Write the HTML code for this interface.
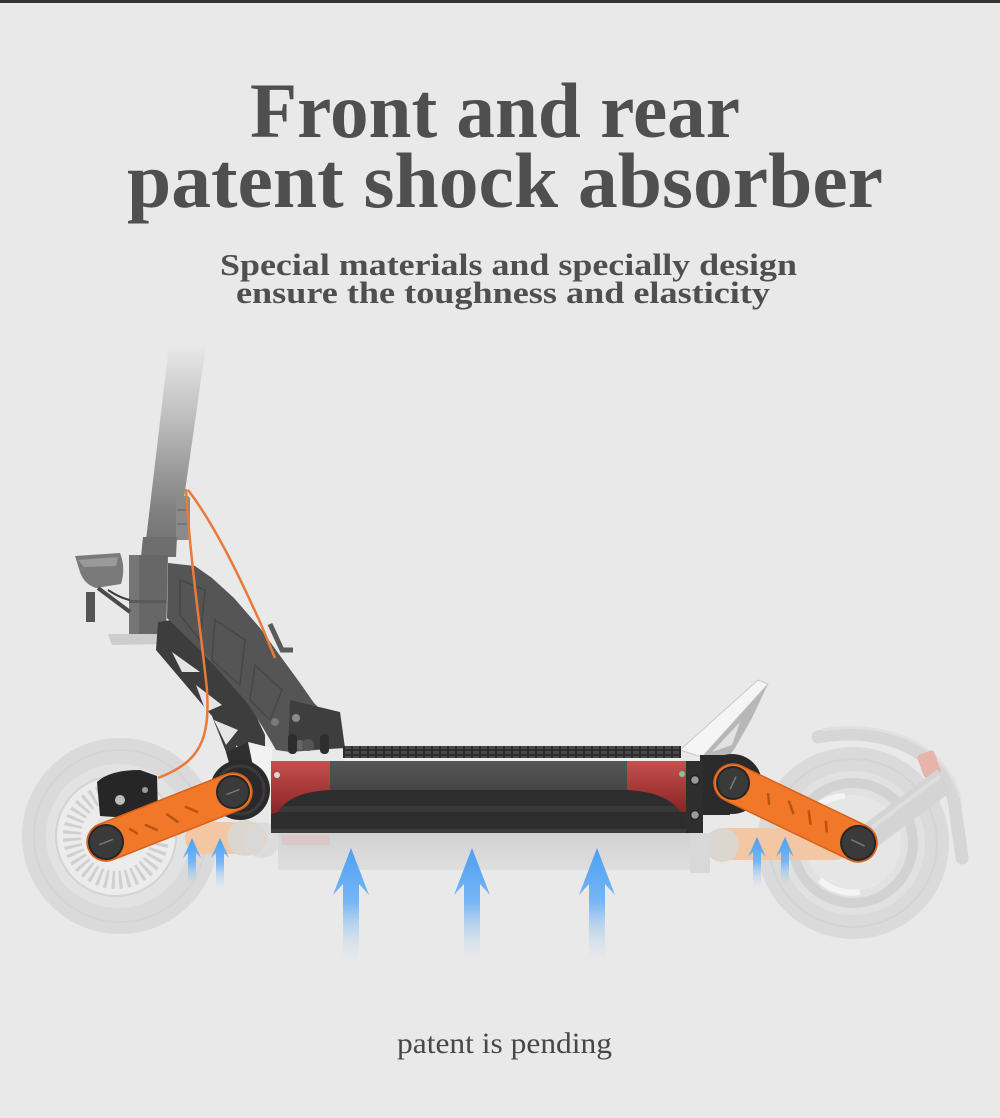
<!DOCTYPE html>
<html><head><meta charset="utf-8"><style>
html,body{margin:0;padding:0;background:#e9e9e9;}
svg{display:block;}
</style></head><body>
<svg width="1000" height="1118" viewBox="0 0 1000 1118" xmlns="http://www.w3.org/2000/svg">
<defs>
<linearGradient id="stemG" x1="0" y1="345" x2="0" y2="600" gradientUnits="userSpaceOnUse">
<stop offset="0" stop-color="#e9e9e9"/><stop offset="0.3" stop-color="#bcbcbc"/><stop offset="0.65" stop-color="#808080"/><stop offset="1" stop-color="#5e5e5e"/>
</linearGradient>
<linearGradient id="arrG" x1="0" y1="0" x2="0" y2="1">
<stop offset="0" stop-color="#4c9ff2"/><stop offset="0.45" stop-color="#78b6f4"/><stop offset="1" stop-color="#e9e9e9" stop-opacity="0"/>
</linearGradient>
<linearGradient id="redL" x1="0" y1="0" x2="0" y2="1">
<stop offset="0" stop-color="#c65050"/><stop offset="1" stop-color="#8a2424"/>
</linearGradient>
<linearGradient id="deckTop" x1="0" y1="0" x2="0" y2="1">
<stop offset="0" stop-color="#575757"/><stop offset="1" stop-color="#454545"/>
</linearGradient>
<linearGradient id="ghost" x1="0" y1="0" x2="0" y2="1">
<stop offset="0" stop-color="#d2d2d2"/><stop offset="1" stop-color="#dedede"/>
</linearGradient>
<pattern id="grip" width="8" height="5" patternUnits="userSpaceOnUse">
<rect width="8" height="5" fill="#2c2c2c"/><rect x="1" y="1" width="6" height="3" fill="#4b4b4b"/>
</pattern>
</defs>

<rect width="1000" height="1118" fill="#e9e9e9"/>
<rect width="1000" height="3" fill="#353535"/>

<!-- Titles -->
<g font-family="'Liberation Serif', serif" fill="#4f4f4f" font-weight="bold">
<text x="250" y="137" font-size="78" textLength="490" lengthAdjust="spacingAndGlyphs">Front and rear</text>
<text x="127" y="207" font-size="78" textLength="756" lengthAdjust="spacingAndGlyphs">patent shock absorber</text>
<text x="220" y="275" font-size="31" textLength="577" lengthAdjust="spacingAndGlyphs">Special materials and specially design</text>
<text x="236" y="303" font-size="31" textLength="534" lengthAdjust="spacingAndGlyphs">ensure the toughness and elasticity</text>
</g>
<text x="397" y="1053" font-family="'Liberation Serif', serif" font-size="30" fill="#474747" textLength="215" lengthAdjust="spacingAndGlyphs">patent is pending</text>

<!-- Front wheel -->
<circle cx="120" cy="836" r="98" fill="#dadada"/>
<circle cx="120" cy="836" r="86" fill="none" stroke="#d4d4d4" stroke-width="2"/>
<circle cx="118" cy="836" r="72" fill="#e2e2e2"/>
<circle cx="116" cy="836" r="60" fill="#ececec" stroke="#d3d3d3" stroke-width="2"/>
<circle cx="116" cy="836" r="44" fill="none" stroke="#d0d0d0" stroke-width="18" stroke-dasharray="3 4"/>
<circle cx="116" cy="836" r="24" fill="#e4e4e4"/>

<!-- Rear wheel -->
<circle cx="853" cy="843" r="96" fill="#dadada"/>
<circle cx="853" cy="843" r="84" fill="none" stroke="#d3d3d3" stroke-width="2"/>
<circle cx="853" cy="843" r="72" fill="#e1e1e1"/>
<circle cx="853" cy="843" r="60" fill="none" stroke="#d2d2d2" stroke-width="10"/>
<circle cx="853" cy="843" r="48" fill="#e6e6e6"/>
<path d="M815,808 A48,48 0 0 1 845,796" stroke="#f4f4f4" stroke-width="6" fill="none"/>
<path d="M820,880 A48,48 0 0 0 860,892" stroke="#f4f4f4" stroke-width="6" fill="none"/>
<!-- Rear fender & strut -->
<path d="M818,737 C875,726 938,745 954,800 L962,858" stroke="#d6d6d6" stroke-width="13" fill="none" stroke-linecap="round"/>
<path d="M822,730 C880,720 945,740 960,798" stroke="#e0e0e0" stroke-width="3" fill="none"/>
<rect x="920" y="752" width="18" height="24" rx="3" fill="#e7b3ab" transform="rotate(-20 929 764)"/>
<line x1="862" y1="842" x2="945" y2="780" stroke="#d4d4d4" stroke-width="26"/>
<line x1="866" y1="832" x2="940" y2="776" stroke="#dedede" stroke-width="4"/>

<!-- Ghost reflections under deck -->
<rect x="278" y="833" width="432" height="37" fill="url(#ghost)"/>
<rect x="282" y="835" width="48" height="10" fill="#dcc0c0" opacity="0.7"/>
<rect x="185" y="822" width="82" height="32" rx="16" fill="#f3c6a4"/>
<circle cx="245" cy="838" r="18" fill="#dcd6d0"/>
<circle cx="262" cy="840" r="18" fill="#d8d8d8" opacity="0.8"/>
<rect x="708" y="828" width="142" height="32" rx="14" fill="#f3c6a4"/>
<circle cx="722" cy="845" r="17" fill="#dcd6d0"/>
<rect x="690" y="833" width="20" height="40" fill="#d8d8d8"/>

<!-- Stem -->
<polygon points="169,345 206,345 178,540 146,540" fill="url(#stemG)"/>
<rect x="176" y="496" width="14" height="44" rx="3" fill="#8a8a8a"/>
<line x1="177" y1="510" x2="189" y2="510" stroke="#6f6f6f" stroke-width="1.5"/>
<line x1="177" y1="524" x2="189" y2="524" stroke="#6f6f6f" stroke-width="1.5"/>
<polygon points="143,537 177,537 176,557 141,557" fill="#6e6e6e"/>
<polygon points="129,555 168,555 166,640 129,640" fill="#676767"/>
<rect x="129" y="555" width="10" height="85" fill="#757575"/>
<rect x="129" y="600" width="37" height="3" fill="#5a5a5a"/>
<polygon points="108,634 168,634 170,644 112,645" fill="#cdcdcd"/>
<!-- headlight -->
<path d="M75,556 L120,553 Q126,568 121,584 L96,588 Q84,584 80,572 Z" fill="#7a7a7a"/>
<path d="M78,560 L118,557 L116,566 L84,567 Z" fill="#9a9a9a"/>
<path d="M98,588 L130,612" stroke="#4a4a4a" stroke-width="4"/>
<path d="M108,590 Q120,598 130,600" stroke="#3a3a3a" stroke-width="2" fill="none"/>
<rect x="86" y="592" width="9" height="30" fill="#555"/>

<!-- Truss -->
<polygon points="158,622 172,620 250,703 265,735 265,785 238,792 226,752 212,716 156,650" fill="#3d3d3d"/>
<polygon points="172,652 200,672 182,672" fill="#e4e4e4"/>
<polygon points="196,685 222,705 206,712" fill="#e4e4e4"/>
<polygon points="214,720 238,730 226,745" fill="#e4e4e4"/>
<polygon points="236,745 252,760 240,770" fill="#e4e4e4"/>
<!-- Fork plate -->
<polygon points="168,563 195,566 212,578 234,598 260,628 281,657 300,683 314,703 322,711 337,714 344,748 290,752 276,750 262,726 248,704 208,658 167,618" fill="#555555"/>
<polygon points="180,580 205,590 200,640 180,615" fill="none" stroke="#474747" stroke-width="1.5"/>
<polygon points="215,620 245,640 240,685 212,660" fill="none" stroke="#474747" stroke-width="1.5"/>
<polygon points="255,665 282,690 270,720 250,700" fill="none" stroke="#474747" stroke-width="1.5"/>
<polygon points="290,700 340,712 345,748 288,750" fill="#3e3e3e"/>
<circle cx="296" cy="718" r="4" fill="#8a8a8a"/>
<circle cx="275" cy="722" r="4" fill="#7a7a7a"/>
<circle cx="300" cy="745" r="5" fill="#666"/>
<rect x="288" y="734" width="9" height="20" rx="4" fill="#2e2e2e"/>
<rect x="320" y="734" width="9" height="20" rx="4" fill="#2e2e2e"/>
<circle cx="308" cy="745" r="6" fill="#555"/>
<!-- lever -->
<path d="M270,624 L282,650 L293,650" stroke="#5a5a5a" stroke-width="5" fill="none"/>
<!-- white bracket near front pivot -->
<polygon points="248,742 272,748 272,800 258,805 250,770" fill="#f2f2f2"/>
<polygon points="226,752 248,742 258,790 238,796" fill="#2f2f2f"/>

<!-- Cables -->
<path d="M186,489 C190,560 202,640 207,690 C210,740 200,762 158,778" stroke="#e87a3a" stroke-width="2.5" fill="none"/>
<path d="M188,490 C215,525 240,578 260,622 L275,658" stroke="#e87a3a" stroke-width="2.5" fill="none"/>

<!-- Front pivot disc -->
<circle cx="240" cy="790" r="30" fill="#2a2a2a"/>
<circle cx="240" cy="790" r="24" fill="none" stroke="#3b3b3b" stroke-width="3"/>

<!-- Front caliper -->
<path d="M97,782 Q110,770 140,770 L157,776 L158,812 L130,818 L100,816 Z" fill="#262626"/>
<circle cx="120" cy="800" r="5" fill="#bdbdbd"/>
<circle cx="145" cy="790" r="3" fill="#9a9a9a"/>

<!-- Front orange arm -->
<g transform="translate(233,792) rotate(158.5)">
<rect x="-19" y="-19" width="174.5" height="38" rx="19" fill="#f07828"/>
<rect x="-19" y="-19" width="174.5" height="38" rx="19" fill="none" stroke="#d8601a" stroke-width="1.5"/>
<path d="M40,-6 l10,10 M62,-8 l8,12 M84,-8 l10,10 M104,-4 l6,8" stroke="#b9540f" stroke-width="2.5"/>
<circle cx="0" cy="0" r="16" fill="#3a3a3a" stroke="#262626" stroke-width="2"/>
<line x1="-7" y1="0" x2="7" y2="0" stroke="#777" stroke-width="1.5"/>
<circle cx="136.5" cy="0" r="17" fill="#3a3a3a" stroke="#262626" stroke-width="2"/>
<line x1="129" y1="0" x2="144" y2="0" stroke="#777" stroke-width="1.5"/>
</g>

<!-- Rear footrest -->
<polygon points="680,750 758,680 768,684 702,757" fill="#f5f5f5" stroke="#c9c9c9" stroke-width="1"/>
<polygon points="702,757 768,684 752,718 735,748 722,766" fill="#b7b7b7"/>
<polygon points="712,752 740,722 732,745" fill="#e2e2e2"/>
<!-- Rear pivot -->
<rect x="700" y="755" width="30" height="60" fill="#2b2b2b"/>
<circle cx="732" cy="784" r="30" fill="#2a2a2a"/>

<!-- Deck -->
<rect x="343" y="746" width="338" height="14" fill="url(#grip)"/>
<rect x="343" y="758" width="338" height="3" fill="#efefef"/>
<rect x="271" y="761" width="432" height="29" fill="url(#deckTop)"/>
<rect x="271" y="790" width="432" height="43" fill="#2d2d2d"/>
<rect x="271" y="806" width="432" height="6" fill="#383838"/>
<rect x="271" y="829" width="432" height="4" fill="#3c3c3c"/>
<path d="M271,761 H330 V790 Q290,792 278,812 L271,814 Z" fill="url(#redL)"/>
<path d="M627,761 H686 V812 L680,812 Q668,792 627,790 Z" fill="url(#redL)"/>
<circle cx="277" cy="775" r="3" fill="#d8d8d8"/>
<circle cx="682" cy="774" r="3" fill="#8fbf9a"/>
<rect x="686" y="761" width="17" height="72" fill="#2e2e2e"/>
<circle cx="695" cy="780" r="4.5" fill="#9a9a9a" stroke="#222" stroke-width="1.5"/>
<circle cx="695" cy="815" r="4.5" fill="#9a9a9a" stroke="#222" stroke-width="1.5"/>

<!-- Rear orange arm -->
<g transform="translate(733,783) rotate(25.6)">
<rect x="-19" y="-19" width="176.7" height="38" rx="19" fill="#f07828"/>
<rect x="-19" y="-19" width="176.7" height="38" rx="19" fill="none" stroke="#d8601a" stroke-width="1.5"/>
<path d="M36,-6 l6,10 M58,-8 l10,10 M80,-8 l8,12 M100,-6 l6,10" stroke="#b9540f" stroke-width="2.5"/>
<circle cx="0" cy="0" r="16" fill="#3a3a3a" stroke="#262626" stroke-width="2"/>
<line x1="0" y1="-7" x2="0" y2="7" stroke="#777" stroke-width="1.5"/>
<circle cx="138.7" cy="0" r="17" fill="#3a3a3a" stroke="#262626" stroke-width="2"/>
<line x1="131" y1="0" x2="146" y2="0" stroke="#777" stroke-width="1.5"/>
</g>

<!-- Blue arrows (big) -->
<path d="M351,848 L369,895 L359,884 L359,968 L343,968 L343,884 L333,895 Z" fill="url(#arrG)"/>
<path d="M472,848 L490,895 L480,884 L480,968 L464,968 L464,884 L454,895 Z" fill="url(#arrG)"/>
<path d="M597,848 L615,895 L605,884 L605,968 L589,968 L589,884 L579,895 Z" fill="url(#arrG)"/>
<!-- Blue arrows (small) -->
<path d="M192,838 L201,858 L196,853 L196,893 L188,893 L188,853 L183,858 Z" fill="url(#arrG)"/>
<path d="M220,838 L229,858 L224,853 L224,893 L216,893 L216,853 L211,858 Z" fill="url(#arrG)"/>
<path d="M757,837 L766,857 L761,852 L761,892 L753,892 L753,852 L748,857 Z" fill="url(#arrG)"/>
<path d="M785,837 L794,857 L789,852 L789,892 L781,892 L781,852 L776,857 Z" fill="url(#arrG)"/>
</svg>
</body></html>
